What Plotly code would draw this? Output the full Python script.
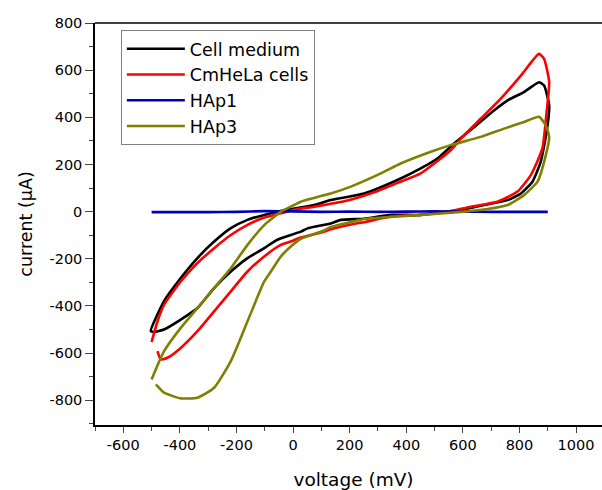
import plotly.graph_objects as go

# Cell medium (black)
cm_v = [-503, -491, -456, -397, -338, -279, -220, -161, -102, -67, -43, 27, 51, 133, 169, 251, 345, 451, 522, 593, 675, 758, 805, 846, 875, 896, 905,
        887, 869, 816, 758, 710, 640, 569, 510, 451, 369, 251, 133, 74, -43, -102, -161, -220, -279, -338, -397, -456, -503]
cm_i = [-507, -510, -500, -458, -409, -324, -254, -197, -155, -127, -113, -85, -71, -50, -35, -30, -14, -14, -3, 7, 28, 49, 77, 127, 211, 338, 450,
        535, 549, 507, 472, 429, 359, 289, 225, 183, 134, 77, 49, 28, 3, -14, -35, -70, -127, -197, -282, -380, -507]

# CmHeLa cells (red)
hl_v = [-479, -468, -444, -397, -338, -279, -220, -161, -102, -43, -8, 27, 110, 133, 227, 251, 345, 451, 546, 628, 722, 793, 840, 881, 896, 905,
        887, 869, 805, 734, 663, 593, 557, 451, 369, 286, 192, 74, 16, -43, -102, -161, -220, -279, -338, -397, -456, -479, -500]
hl_i = [-592, -627, -620, -578, -507, -423, -338, -254, -190, -141, -127, -110, -85, -75, -49, -45, -21, -14, 0, 21, 42, 85, 155, 268, 423, 549,
        648, 669, 577, 479, 394, 310, 260, 162, 122, 82, 47, 21, 11, -7, -25, -56, -99, -155, -218, -296, -395, -465, -553]

# HAp1 (blue)
h1_v = [-500, -400, -300, -200, -100, 0, 100, 200, 300, 400, 500, 600, 700, 800, 900]
h1_i = [-2, -2, -2, -1, 2, 1, -1, 0, -1, 0, 1, 0, -1, -1, -1]

# HAp3 (olive)
h3_v = [-485, -456, -397, -338, -279, -220, -161, -102, -79, -43, -8, 27, 110, 133, 227, 251, 369, 487, 604, 687, 758, 816, 864, 887, 905,
        893, 869, 816, 746, 663, 557, 487, 380, 310, 204, 133, 110, 27, -8, -43, -102, -161, -220, -279, -338, -397, -456, -500]
h3_i = [-733, -768, -792, -789, -747, -634, -465, -296, -255, -190, -148, -115, -80, -65, -38, -31, -21, -11, 0, 11, 28, 70, 127, 211, 317,
        366, 402, 380, 352, 317, 282, 254, 204, 162, 106, 77, 70, 42, 21, 0, -57, -141, -240, -324, -409, -493, -592, -712]

x_ticks = [-600, -400, -200, 0, 200, 400, 600, 800, 1000]
x_ticktext = ["-600", "-400", "-200", "0", "200", "400", "600", "800", "1000"]
y_ticks = [-800, -600, -400, -200, 0, 200, 400, 600, 800]
y_ticktext = ["-800", "-600", "-400", "-200", "0", "200", "400", "600", "800"]

series = [
    ("Cell medium", cm_v, cm_i, "#000000"),
    ("CmHeLa cells", hl_v, hl_i, "#ff0000"),
    ("HAp1", h1_v, h1_i, "#0000b4"),
    ("HAp3", h3_v, h3_i, "#808000"),
]

fig = go.Figure()
for name, xv, yv, col in series:
    fig.add_trace(go.Scatter(x=xv, y=yv, mode="lines", name=name,
                             line=dict(color=col, width=2.6, shape="spline", smoothing=0.5)))

# top frame line
fig.add_shape(type="line", xref="paper", yref="paper", x0=0, x1=1, y0=1, y1=1,
              line=dict(color="black", width=1.5), layer="above")

font = "DejaVu Sans, Arial, sans-serif"
fig.update_layout(
    width=612, height=490,
    margin=dict(l=95, r=0, t=23, b=63),
    paper_bgcolor="white", plot_bgcolor="white",
    font=dict(family=font, color="black", size=14.5),
    showlegend=True,
    legend=dict(x=0.050, y=0.983, xanchor="left", yanchor="top",
                bordercolor="#808080", borderwidth=1, bgcolor="white",
                font=dict(size=17.5, family=font), tracegroupgap=0, itemwidth=58),
    xaxis=dict(range=[-700, 1127], tickmode="array", tickvals=x_ticks, ticktext=x_ticktext,
               ticks="outside", ticklen=6, tickwidth=1.3,
               showline=True, linecolor="black", linewidth=1.5, mirror=False, showgrid=False, zeroline=False,
               minor=dict(dtick=100, tick0=0, ticks="outside", ticklen=4, tickwidth=1.3),
               tickfont=dict(size=14.5),
               title=dict(text="voltage (mV)", font=dict(size=18.5), standoff=24)),
    yaxis=dict(range=[-905, 800], tickmode="array", tickvals=y_ticks, ticktext=y_ticktext,
               ticks="outside", ticklen=8, tickwidth=1.3,
               showline=True, linecolor="black", linewidth=1.5, mirror=False, showgrid=False, zeroline=False,
               minor=dict(dtick=100, tick0=0, ticks="outside", ticklen=4, tickwidth=1.3),
               tickfont=dict(size=14.5),
               title=dict(text="current (μA)", font=dict(size=17.5), standoff=12)),
)
fig.write_html("out.html", config={"displayModeBar": False},
               post_script="document.body.style.margin='0px';document.body.style.overflow='hidden';")
